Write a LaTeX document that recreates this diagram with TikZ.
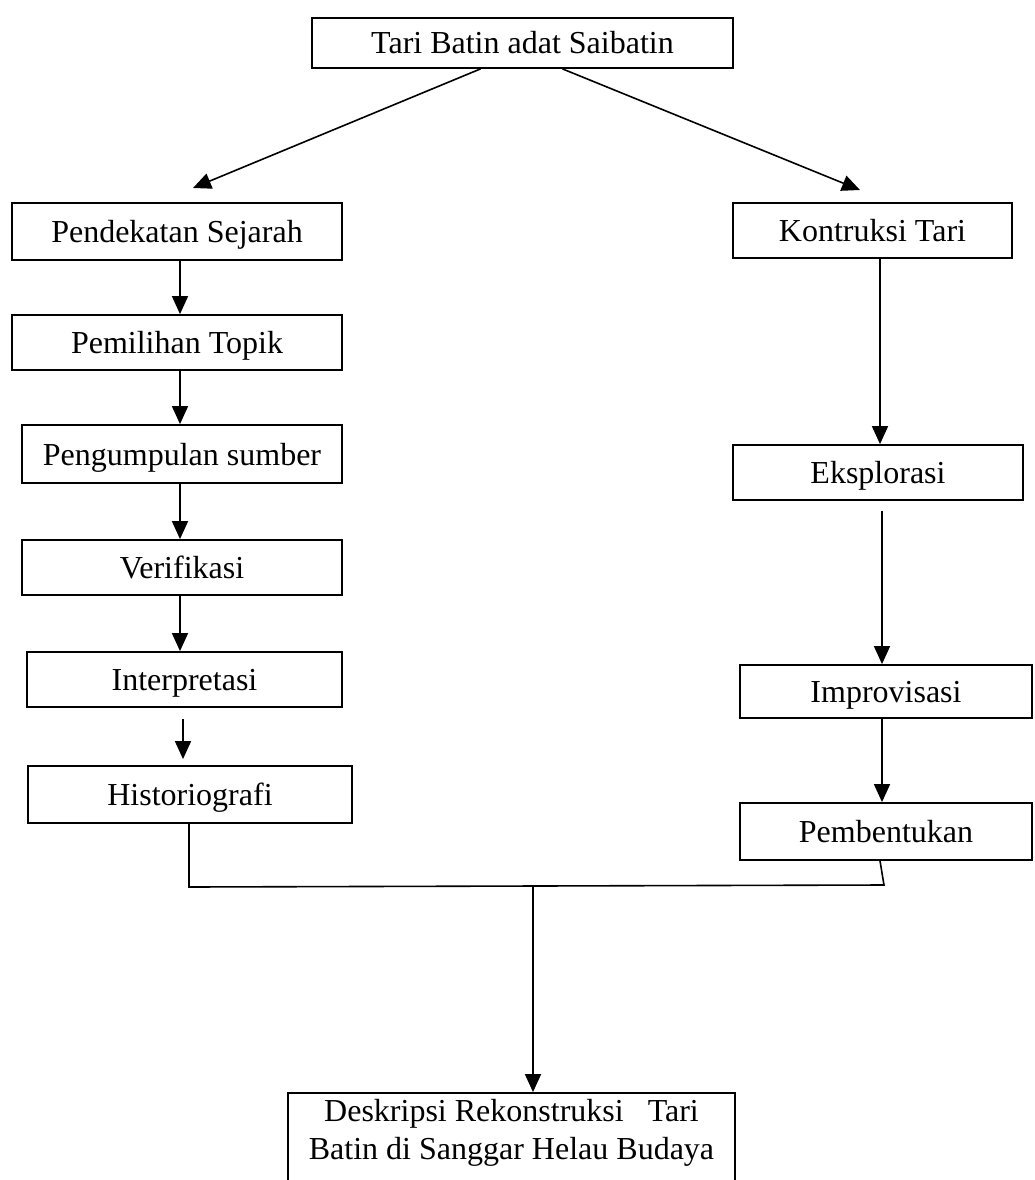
\documentclass[tikz,border=0pt]{standalone}
\usepackage{fontspec}
\setmainfont{Liberation Serif}
\usetikzlibrary{arrows.meta}
\begin{document}
\begin{tikzpicture}[x=1pt,y=-1pt,
  box/.style={draw, line width=1.8pt, inner sep=0pt, text height=29pt, text depth=7pt,
              font=\fontsize{32}{38}\selectfont},
  conn/.style={line width=1.6pt},
  arr/.style={conn, -{Triangle[length=18pt,width=16pt]}}]
\useasboundingbox (0,0) rectangle (1034,1180);
\fill[white] (0,0) rectangle (1034,1180);
\clip (0,0) rectangle (1034,1180);

% top
\node[box, minimum width=421pt, minimum height=50pt] (top) at (522.5,43) {Tari Batin adat Saibatin};

% left column
\node[box, minimum width=330pt, minimum height=57pt] (pend) at (177,231.5) {Pendekatan Sejarah};
\node[box, minimum width=330pt, minimum height=55pt] (pemi) at (177,342.5) {Pemilihan Topik};
\node[box, minimum width=320pt, minimum height=58pt] (peng) at (182,454) {Pengumpulan sumber};
\node[box, minimum width=320pt, minimum height=55pt] (veri) at (182,567.5) {Verifikasi};
\node[box, minimum width=315pt, minimum height=55pt] (inte) at (184.5,679.5) {Interpretasi};
\node[box, minimum width=324pt, minimum height=57pt] (hist) at (190,794.5) {Historiografi};

% right column
\node[box, minimum width=279pt, minimum height=55pt] (kont) at (872.5,230.5) {Kontruksi Tari};
\node[box, minimum width=290pt, minimum height=55pt] (eksp) at (878,472.5) {Eksplorasi};
\node[box, minimum width=292pt, minimum height=53pt] (impr) at (886,691.5) {Improvisasi};
\node[box, minimum width=292pt, minimum height=57pt] (pemb) at (886,831.5) {Pembentukan};

% bottom
\node[box, minimum width=447pt, minimum height=140pt] (descbox) at (511.5,1163) {};
\node[font=\fontsize{32}{38}\selectfont, align=center, inner sep=0pt] (desc) at (511.5,1133)
  {Deskripsi Rekonstruksi\ \ \ Tari\\Batin di Sanggar Helau Budaya};

% helper coordinates
\coordinate (lx) at (180,0);
\coordinate (lx2) at (183,0);
\coordinate (rx) at (880,0);
\coordinate (rx2) at (882,0);
\coordinate (tl) at (193,188);
\coordinate (tr) at (860,190);
\coordinate (jl) at (189,887);
\coordinate (jr) at (884,885);
\coordinate (jm) at (533,887);

% top arrows
\draw[arr] ([xshift=-42pt]top.south) -- (tl);
\draw[arr] ([xshift=40pt]top.south) -- (tr);

% left arrows
\draw[arr] (pend.south -| lx) -- (pemi.north -| lx);
\draw[arr] (pemi.south -| lx) -- (peng.north -| lx);
\draw[arr] (peng.south -| lx) -- (veri.north -| lx);
\draw[arr] (veri.south -| lx) -- (inte.north -| lx);
\draw[arr] ([yshift=-11pt]inte.south -| lx2) -- ([yshift=6pt]hist.north -| lx2);

% right arrows
\draw[arr] (kont.south -| rx) -- (eksp.north -| rx);
\draw[arr] ([yshift=-10pt]eksp.south -| rx2) -- (impr.north -| rx2);
\draw[arr] (impr.south -| rx2) -- (pemb.north -| rx2);

% join
\draw[conn] (hist.south -| jl) -- (jl) -- (jr) -- ([xshift=-6pt]pemb.south);
\draw[arr] (jm) -- (descbox.north -| jm);
\end{tikzpicture}
\end{document}
